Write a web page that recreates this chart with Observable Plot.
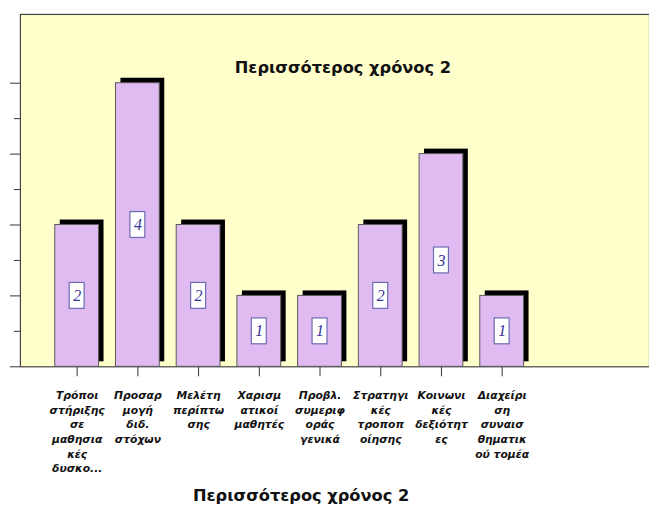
<!DOCTYPE html>
<html>
<head>
<meta charset="utf-8">
<script src="https://cdn.jsdelivr.net/npm/d3@7"></script>
<script src="https://cdn.jsdelivr.net/npm/@observablehq/plot@0.6"></script>
<style>
  html, body { margin: 0; padding: 0; background: #ffffff; overflow: hidden; width: 649px; height: 513px; }
  #chart svg { display: block; }
</style>
</head>
<body>
<div id="chart"></div>
<script>
const labels = [
  "Τρόποι\nστήριξης\nσε\nμαθησια\nκές\nδυσκο...",
  "Προσαρ\nμογή\nδιδ.\nστόχων",
  "Μελέτη\nπερίπτω\nσης",
  "Χαρισμ\nατικοί\nμαθητές",
  "Προβλ.\nσυμεριφ\nοράς\nγενικά",
  "Στρατηγι\nκές\nτροποπ\nοίησης",
  "Κοινωνι\nκές\nδεξιότητ\nες",
  "Διαχείρι\nση\nσυναισ\nθηματικ\nού τομέα"
];
const values = [2, 4, 2, 1, 1, 2, 3, 1];
const majorTicks = [0, 1, 2, 3, 4];
const minorTicks = [0.5, 1.5, 2.5, 3.5];
const title = "Περισσότερος χρόνος 2";

const data = labels.map((c, i) => ({cat: c, v: values[i]}));

const chart = Plot.plot({
  width: 652,
  height: 513,
  marginTop: 14,
  marginLeft: 20,
  marginRight: 0,
  marginBottom: 145,
  style: {background: "white", overflow: "visible"},
  x: {domain: labels, range: [46.5, 534.5], paddingInner: 0.28, paddingOuter: 0.14},
  y: {domain: [0, 4.97]},
  marks: [
    Plot.frame({fill: "#ffffcc", stroke: "#444444", strokeWidth: 1.2}),
    Plot.axisY({ticks: majorTicks, tickSize: 10, tickFormat: () => "", label: null, stroke: "#333"}),
    Plot.axisY({ticks: minorTicks, tickSize: 6, tickFormat: () => "", label: null, stroke: "#333"}),
    Plot.axisX({tickSize: 10, tickFormat: () => "", label: null, stroke: "#333"}),
    Plot.barY(data, {x: "cat", y: "v", fill: "black", dx: 5, dy: -5}),
    Plot.barY(data, {x: "cat", y: "v", fill: "#dfbbf1", stroke: "#5a5a5a", strokeWidth: 1}),
    Plot.barY(data, {x: "cat", y1: d => d.v / 2, y2: d => d.v / 2, insetTop: -13, insetBottom: -13, insetLeft: 14.5, insetRight: 14.5, fill: "white", stroke: "#6b6bb0", strokeWidth: 1.2}),
    Plot.text(data, {x: "cat", y: d => d.v / 2, text: d => String(d.v), fontFamily: "Liberation Serif", fontStyle: "italic", fontSize: 16, fill: "#333399"}),
    Plot.text(data, {x: "cat", text: "cat", frameAnchor: "bottom", lineAnchor: "top", dy: 22, lineHeight: 1.36, fontFamily: "DejaVu Sans", fontWeight: "bold", fontStyle: "italic", fontSize: 10.8, fill: "#111"}),
    Plot.text([title], {text: d => d, frameAnchor: "top", dy: 47, dx: 8, fontFamily: "DejaVu Sans", fontWeight: "bold", fontSize: 16.3, fill: "#111"}),
    Plot.text([title], {text: d => d, frameAnchor: "bottom", dy: 135, dx: -34, fontFamily: "DejaVu Sans", fontWeight: "bold", fontSize: 16.3, fill: "#111"})
  ]
});
document.getElementById("chart").appendChild(chart);
</script>
</body>
</html>
